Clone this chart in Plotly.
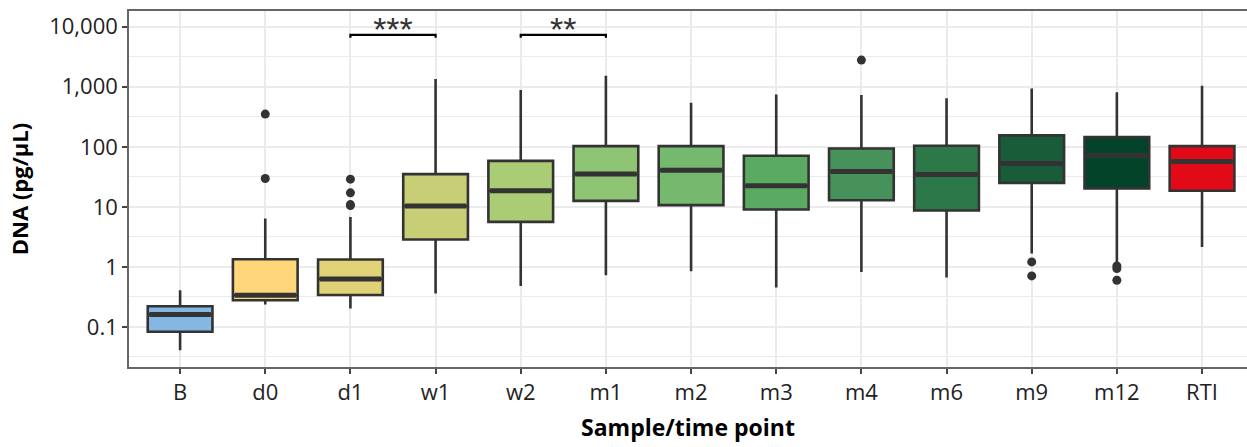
import plotly.graph_objects as go

categories = ["B", "d0", "d1", "w1", "w2", "m1", "m2", "m3", "m4", "m6", "m9", "m12", "RTI"]
q1 = [0.083, 0.279, 0.341, 2.86, 5.62, 12.6, 10.7, 9.05, 12.9, 8.71, 25.1, 20.3, 18.5]
median = [0.161, 0.338, 0.631, 10.3, 18.5, 35.1, 40.9, 22.4, 38.9, 34.7, 52.9, 71.9, 57.1]
q3 = [0.221, 1.34, 1.33, 35.1, 58.4, 102.7, 102.7, 70.8, 94.0, 104.0, 155.0, 145.0, 102.7]
lower_whisker = [0.041, 0.236, 0.203, 0.36, 0.482, 0.727, 0.848, 0.454, 0.826, 0.666, 1.67, 1.21, 2.15]
upper_whisker = [0.409, 6.41, 6.81, 1344, 881, 1525, 541, 747, 727, 641, 940, 807, 1040]
colors = ["#85B7E3", "#FFD679", "#E0D377", "#C8CE76", "#A9CC75", "#8EC473", "#75B96F",
          "#5AAA61", "#47925A", "#2D7849", "#195C3A", "#03432A", "#E30A17"]

outlier_cat = ["d0", "d0", "d1", "d1", "d1", "d1", "m4", "m9", "m9", "m12", "m12", "m12"]
outlier_val = [351, 29.7, 28.9, 17.1, 10.5, 10.9, 2786, 1.21, 0.708, 1.04, 0.94, 0.6]

sig_pairs = [("d1", "w1"), ("w2", "m1")]
sig_labels = ["***", "**"]
sig_level = 7300
sig_tip = 6550
sig_text_level = 7900

y_tickvals = [0.1, 1, 10, 100, 1000, 10000]
y_ticktext = ["0.1", "1", "10", "100", "1,000", "10,000"]
y_minor = [0.0316, 0.316, 3.16, 31.6, 316, 3162]

FONT = "Open Sans"
BOXW = 0.76
idx = {c: i for i, c in enumerate(categories)}

fig = go.Figure()
for i, c in enumerate(categories):
    fig.add_trace(go.Box(
        x=[i], q1=[q1[i]], median=[median[i]], q3=[q3[i]],
        lowerfence=[lower_whisker[i]], upperfence=[upper_whisker[i]],
        width=BOXW, whiskerwidth=0, fillcolor=colors[i],
        line=dict(color="#333333", width=2.6), boxpoints=False,
        showlegend=False, hoverinfo="skip",
    ))
    fig.add_trace(go.Scatter(
        x=[i - BOXW / 2 + 0.02, i + BOXW / 2 - 0.02], y=[median[i], median[i]],
        mode="lines", line=dict(color="#333333", width=5),
        showlegend=False, hoverinfo="skip",
    ))

fig.add_trace(go.Scatter(
    x=[idx[c] for c in outlier_cat], y=outlier_val, mode="markers",
    marker=dict(color="#333333", size=9), showlegend=False, hoverinfo="skip",
))

for (a, b), lab in zip(sig_pairs, sig_labels):
    xa, xb = idx[a], idx[b]
    fig.add_trace(go.Scatter(
        x=[xa, xa, xb, xb], y=[sig_tip, sig_level, sig_level, sig_tip],
        mode="lines", line=dict(color="black", width=2.2),
        showlegend=False, hoverinfo="skip",
    ))
    fig.add_trace(go.Scatter(
        x=[(xa + xb) / 2], y=[sig_text_level], mode="text", text=[lab],
        textposition="middle center",
        textfont=dict(family="Liberation Sans", size=34, color="#333333"),
        showlegend=False, hoverinfo="skip",
    ))

fig.update_layout(
    width=1247, height=447,
    margin=dict(l=129, r=0, t=11, b=80),
    plot_bgcolor="white", paper_bgcolor="white",
    boxmode="overlay",
    font=dict(family=FONT, size=22, color="#222222"),
    xaxis=dict(
        automargin=False,
        range=[-0.6, 12.528], tickvals=list(range(len(categories))), ticktext=categories,
        showgrid=True, gridcolor="#EBEBEB", gridwidth=1.6,
        showline=True, linecolor="#666666", linewidth=1.6, mirror=True,
        ticks="outside", ticklen=5, tickwidth=1.6, tickcolor="#444444",
        tickfont=dict(family=FONT, size=22, color="#222222"),
        title=dict(text="<b>Sample/time point</b>", font=dict(family=FONT, size=23, color="black"), standoff=15),
        zeroline=False,
    ),
    yaxis=dict(
        automargin=False,
        type="log", range=[-1.667, 4.262],
        tickvals=y_tickvals, ticktext=y_ticktext,
        showgrid=True, gridcolor="#EBEBEB", gridwidth=1.6,
        minor=dict(tickvals=y_minor, showgrid=True, gridcolor="#EBEBEB", gridwidth=0.9, ticklen=0),
        showline=True, linecolor="#666666", linewidth=1.6, mirror=False,
        ticks="outside", ticklen=5, tickwidth=1.6, tickcolor="#444444",
        tickfont=dict(family=FONT, size=22, color="#222222"),
        title=dict(text="<b>DNA (pg/μL)</b>", font=dict(family=FONT, size=22, color="black"), standoff=15),
        zeroline=False,
    ),
)

fig.write_html(
    "out.html",
    config={"displayModeBar": False},
    post_script="document.body.style.margin='0';document.body.style.overflow='hidden';",
)
